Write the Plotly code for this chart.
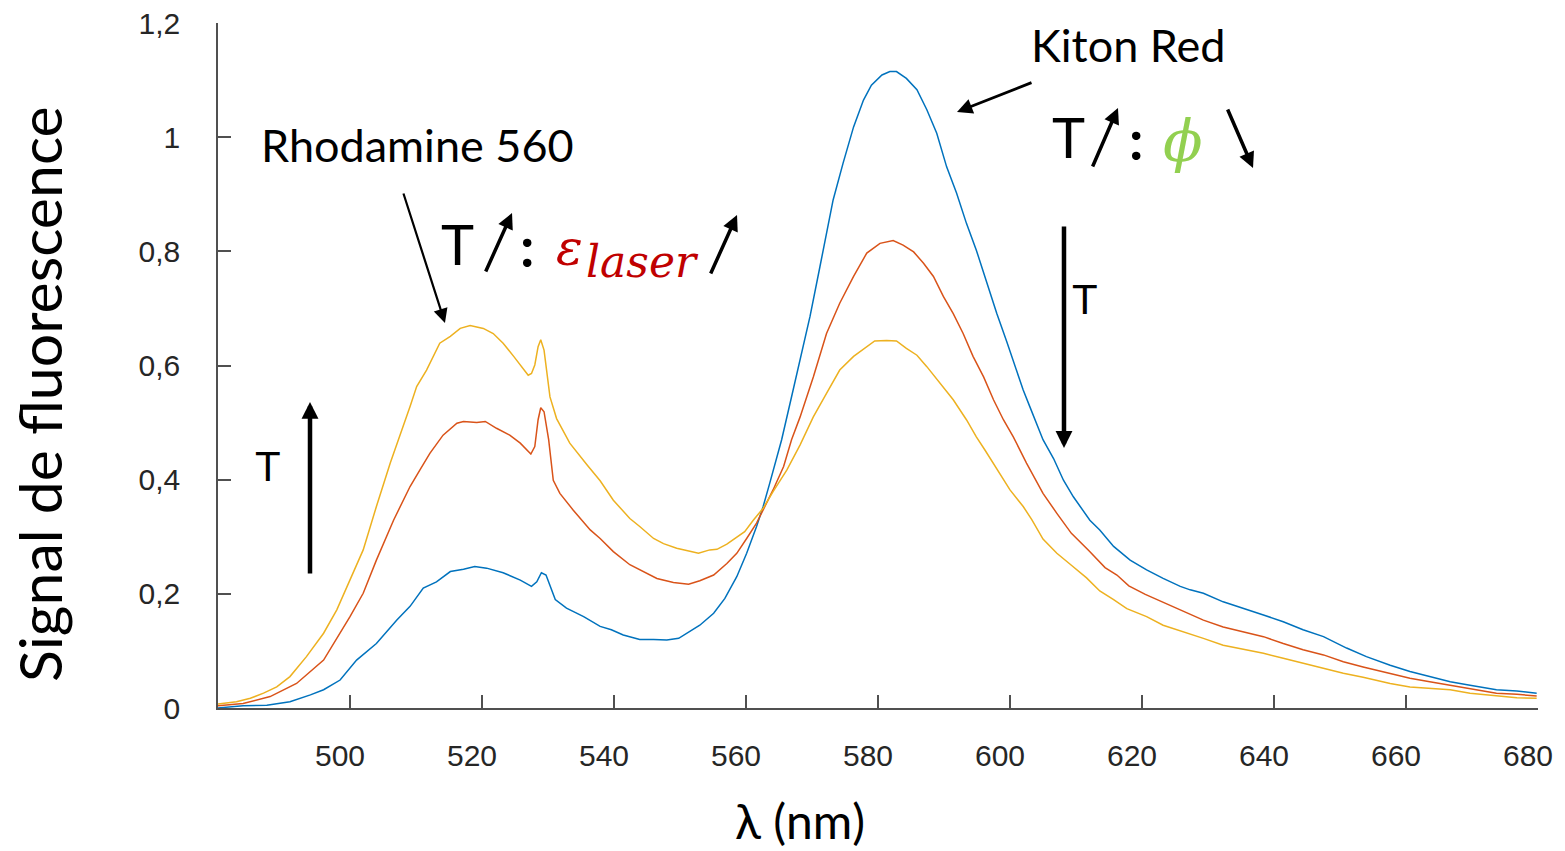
import plotly.graph_objects as go

# ---------------- data ----------------
wl_blue = [479.9, 483.8, 487.4, 490.9, 494.0, 496.0, 498.5, 501.0, 504.0, 507.1, 509.1, 511.1, 513.1, 515.2,
           517.2, 518.9, 520.7, 523.2, 525.8, 527.5, 528.3, 529.0, 529.7, 530.3, 531.1, 532.8, 535.4, 537.9,
           539.6, 541.4, 543.9, 546.0, 548.0, 549.8, 551.5, 553.0, 555.1, 556.8, 558.6, 560.1, 561.6, 562.6,
           563.6, 564.6, 565.4, 566.8, 568.2, 569.7, 571.2, 573.2, 574.7, 576.3, 577.8, 579.0, 580.6, 581.8,
           582.8, 584.3, 585.9, 587.4, 588.9, 590.4, 591.9, 593.4, 594.9, 596.5, 598.0, 599.5, 601.0, 602.0,
           603.0, 605.0, 606.6, 608.1, 609.6, 612.1, 613.6, 615.7, 618.2, 620.7, 623.2, 625.8, 627.3, 629.3,
           632.3, 635.4, 638.4, 641.4, 644.4, 647.5, 651.0, 654.0, 657.6, 660.6, 663.6, 666.7, 669.7, 673.7,
           676.8, 679.8]
sig_blue = [0.000, 0.004, 0.005, 0.011, 0.023, 0.032, 0.049, 0.084, 0.113, 0.154, 0.178, 0.210, 0.221, 0.239,
            0.243, 0.248, 0.245, 0.237, 0.224, 0.213, 0.221, 0.237, 0.233, 0.213, 0.190, 0.175, 0.160, 0.143,
            0.137, 0.128, 0.120, 0.120, 0.119, 0.122, 0.134, 0.145, 0.166, 0.192, 0.230, 0.271, 0.318, 0.353,
            0.394, 0.434, 0.470, 0.540, 0.610, 0.686, 0.773, 0.890, 0.954, 1.018, 1.065, 1.091, 1.109, 1.115,
            1.115, 1.103, 1.083, 1.048, 1.007, 0.948, 0.902, 0.849, 0.802, 0.744, 0.691, 0.642, 0.590, 0.557,
            0.528, 0.470, 0.437, 0.399, 0.370, 0.329, 0.312, 0.283, 0.259, 0.242, 0.227, 0.213, 0.207, 0.201,
            0.186, 0.175, 0.163, 0.151, 0.137, 0.125, 0.105, 0.090, 0.075, 0.064, 0.055, 0.046, 0.040, 0.032,
            0.030, 0.026]

wl_red = [479.9, 483.8, 487.9, 491.9, 496.0, 500.0, 502.0, 504.0, 506.6, 509.1, 510.6, 512.1, 514.1, 516.2,
          517.2, 519.2, 520.5, 522.2, 524.2, 525.8, 527.4, 528.0, 528.5, 528.9, 529.4, 530.1, 530.8, 531.8,
          533.8, 536.4, 537.9, 539.9, 542.4, 544.4, 546.5, 549.0, 551.3, 553.0, 555.1, 557.1, 558.6, 560.1,
          561.6, 562.6, 564.1, 565.7, 566.9, 568.2, 570.2, 572.2, 574.2, 576.3, 578.3, 580.3, 582.3, 583.8,
          585.4, 586.9, 588.4, 589.9, 591.4, 592.9, 594.4, 596.0, 597.5, 599.0, 600.5, 602.5, 605.0, 607.1,
          609.3, 612.0, 614.4, 616.2, 618.0, 620.5, 623.2, 626.3, 629.3, 632.3, 635.4, 638.4, 641.4, 644.4,
          647.5, 650.5, 653.5, 657.6, 660.6, 663.6, 666.7, 670.2, 673.7, 676.8, 679.8]
sig_red = [0.004, 0.008, 0.020, 0.043, 0.084, 0.160, 0.201, 0.259, 0.329, 0.388, 0.417, 0.446, 0.478, 0.499,
           0.502, 0.500, 0.502, 0.490, 0.478, 0.464, 0.445, 0.458, 0.505, 0.526, 0.519, 0.470, 0.399, 0.376,
           0.347, 0.312, 0.297, 0.274, 0.251, 0.239, 0.227, 0.220, 0.217, 0.223, 0.233, 0.253, 0.271, 0.297,
           0.324, 0.347, 0.382, 0.423, 0.470, 0.510, 0.580, 0.656, 0.709, 0.756, 0.797, 0.814, 0.819, 0.811,
           0.799, 0.779, 0.756, 0.721, 0.691, 0.656, 0.616, 0.580, 0.540, 0.505, 0.475, 0.429, 0.376, 0.341,
           0.306, 0.275, 0.246, 0.233, 0.214, 0.199, 0.185, 0.169, 0.154, 0.142, 0.134, 0.125, 0.113, 0.102,
           0.093, 0.081, 0.072, 0.061, 0.052, 0.046, 0.040, 0.032, 0.026, 0.024, 0.021]

wl_yellow = [479.9, 482.8, 484.9, 486.9, 488.9, 490.9, 493.4, 496.0, 498.0, 500.0, 502.0, 504.0, 506.1, 509.1,
             510.1, 511.6, 513.6, 515.2, 516.7, 518.2, 520.2, 521.7, 523.2, 524.8, 526.3, 527.0, 527.5, 528.0,
             528.5, 528.9, 529.4, 530.3, 531.3, 533.3, 535.9, 537.9, 539.9, 542.4, 543.9, 546.0, 547.5, 549.5,
             551.0, 552.8, 554.5, 555.6, 557.1, 558.6, 559.8, 561.1, 562.6, 564.1, 566.2, 568.2, 570.2, 572.2,
             574.2, 576.3, 578.3, 579.5, 581.3, 582.8, 584.3, 585.9, 587.4, 589.4, 591.4, 593.4, 594.9, 596.2,
             598.5, 600.0, 602.0, 603.3, 605.0, 607.1, 609.3, 611.6, 613.6, 615.7, 617.7, 620.7, 623.2, 626.3,
             629.3, 632.3, 635.4, 638.4, 641.4, 644.4, 647.5, 650.5, 653.5, 657.6, 660.6, 663.6, 666.7, 669.7,
             673.7, 676.8, 679.8]
sig_yellow = [0.007, 0.011, 0.017, 0.026, 0.037, 0.055, 0.090, 0.131, 0.172, 0.224, 0.277, 0.353, 0.429, 0.528,
              0.563, 0.592, 0.639, 0.651, 0.665, 0.670, 0.665, 0.656, 0.639, 0.616, 0.592, 0.583, 0.586, 0.601,
              0.633, 0.645, 0.627, 0.545, 0.507, 0.464, 0.426, 0.398, 0.364, 0.332, 0.318, 0.297, 0.288, 0.280,
              0.276, 0.271, 0.277, 0.278, 0.287, 0.300, 0.309, 0.329, 0.350, 0.379, 0.417, 0.461, 0.510, 0.551,
              0.592, 0.616, 0.633, 0.643, 0.644, 0.643, 0.630, 0.618, 0.598, 0.569, 0.540, 0.505, 0.475, 0.452,
              0.411, 0.382, 0.353, 0.330, 0.296, 0.271, 0.250, 0.228, 0.205, 0.190, 0.174, 0.160, 0.145, 0.134,
              0.122, 0.110, 0.103, 0.096, 0.087, 0.078, 0.069, 0.061, 0.054, 0.043, 0.037, 0.034, 0.032, 0.026,
              0.021, 0.018, 0.017]

x_ticks = [500, 520, 540, 560, 580, 600, 620, 640, 660, 680]
y_ticks = [0, 0.2, 0.4, 0.6, 0.8, 1.0, 1.2]

# ---------------- figure ----------------
fig = go.Figure()
series = [(wl_blue, sig_blue, "#0072BD"), (wl_red, sig_red, "#D95319"), (wl_yellow, sig_yellow, "#EDB120")]
for wl, sig, col in series:
    fig.add_trace(go.Scatter(x=wl, y=sig, mode="lines", line=dict(color=col, width=1.5),
                             showlegend=False, hoverinfo="skip"))

AX = "#505050"
fig.update_layout(
    width=1565, height=851,
    margin=dict(l=218, r=27, t=23, b=143),
    paper_bgcolor="white", plot_bgcolor="white",
    separators=", ",
    font=dict(family="Liberation Sans, Arial, sans-serif", size=30, color="#262626"),
    xaxis=dict(range=[480, 680], tickvals=x_ticks, ticks="inside", ticklen=13, tickwidth=1.5,
               tickcolor=AX, showline=True, linecolor=AX, linewidth=1.5, showgrid=False,
               zeroline=False, ticklabelstandoff=20, ticklabelshift=-10, automargin=False,
               tickfont=dict(size=30, color="#262626")),
    yaxis=dict(range=[0, 1.2], tickvals=y_ticks, ticks="inside", ticklen=13, tickwidth=1.5,
               tickcolor=AX, showline=True, linecolor=AX, linewidth=1.5, showgrid=False,
               zeroline=False, ticklabelstandoff=30, tickformat="~g", automargin=False,
               tickfont=dict(size=30, color="#262626")),
)

CAL = "Lato, Open Sans, sans-serif"
SER = "DejaVu Serif, serif"

ann = []
# axis titles
ann.append(dict(text="Signal de fluorescence", xref="paper", yref="paper", x=-0.1348, y=0.4584,
                textangle=-90, showarrow=False, font=dict(family=CAL, size=59, color="black"),
                xanchor="center", yanchor="middle"))
ann.append(dict(text="λ (nm)", xref="paper", yref="paper", x=0.4409, y=-0.1640,
                showarrow=False, font=dict(family=CAL, size=48, color="black"),
                xanchor="center", yanchor="middle"))

# labels
def txt(t, x, y, size, family=CAL, color="black"):
    ann.append(dict(text=t, x=x, y=y, xref="x", yref="y", showarrow=False,
                    font=dict(family=family, size=size, color=color),
                    xanchor="center", yanchor="middle"))

txt("Rhodamine 560", 510.30, 0.9863, 45)
txt("Kiton Red", 617.88, 1.1615, 45)
txt("T", 516.36, 0.8146, 56)
txt("<b>:</b>", 526.82, 0.8111, 56)
txt("<i>ε</i>", 533.33, 0.8059, 50, SER, "#C00000")
txt("<i>laser</i>", 544.39, 0.7814, 44, SER, "#C00000")
txt("T", 608.79, 1.0004, 56)
txt("<b>:</b>", 619.09, 0.9968, 56)
txt("<i>ϕ</i>", 626.21, 0.9933, 58, SER, "#92D050")
txt("T", 611.36, 0.7148, 42, "Liberation Sans, Arial, sans-serif")
txt("T", 487.58, 0.4222, 42, "Liberation Sans, Arial, sans-serif")

# arrows (tip in data units, tail offset in pixels)
def arrow(x, y, ax, ay, width, size):
    ann.append(dict(text="", x=x, y=y, xref="x", yref="y", ax=ax, ay=ay, showarrow=True,
                    arrowhead=2, arrowsize=size, arrowwidth=width, arrowcolor="black", standoff=0))

arrow(514.39, 0.6745, -42, -131, 2.2, 1.3)
arrow(591.97, 1.0441, 76, -30, 2.8, 1.1)
arrow(524.55, 0.8672, -27, 60, 3.5, 0.9)
arrow(558.64, 0.8637, -27, 60, 3.5, 0.9)
arrow(616.36, 1.0512, -26, 60, 3.5, 0.9)
arrow(636.82, 0.9460, -26, -60, 3.5, 0.9)
arrow(608.18, 0.4555, 0, -223, 4.5, 0.75)
arrow(493.94, 0.5361, 0, 173, 4.5, 0.75)

fig.update_layout(annotations=ann)
fig.write_html("out.html")
